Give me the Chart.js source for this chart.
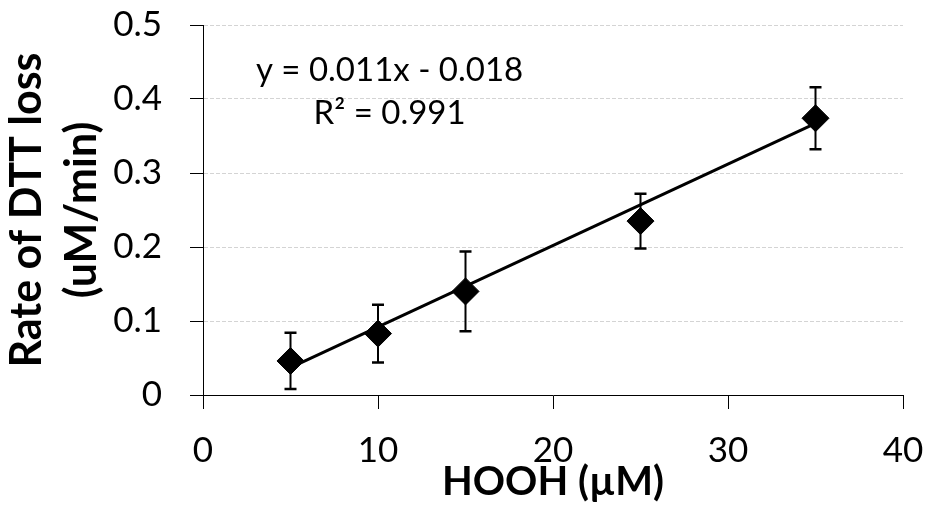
<!DOCTYPE html>
<html>
<head>
<meta charset="utf-8">
<script src="https://cdn.jsdelivr.net/npm/chart.js@4.4.0/dist/chart.umd.min.js"></script>
<style>
    html, body { margin: 0; padding: 0; background: #fff; }
    #wrap { width: 925px; height: 508px; }
</style>
</head>
<body>
<div id="wrap"><canvas id="dttChart"></canvas></div>
<script>
// HOOH concentration (uM)
var hoohConc = [5, 10, 15, 25, 35];
// Rate of DTT loss (uM/min)
var dttRate = [0.046, 0.083, 0.140, 0.235, 0.374];
// Error bar half-lengths
var dttErr = [0.038, 0.039, 0.054, 0.037, 0.042];
// Linear fit y = 0.011x - 0.018 over the measured range
var fitX = [5, 35];
var fitY = [0.037, 0.367];
// Tick values
var xTicks = [0, 10, 20, 30, 40];
var yTicks = [0, 0.1, 0.2, 0.3, 0.4, 0.5];
// Fit annotation
var fitText = ['y = 0.011x - 0.018', 'R\u00b2 = 0.991'];

document.addEventListener('DOMContentLoaded', function() {
    var ctx = document.getElementById('dttChart').getContext('2d');

    var pointData = hoohConc.map(function(x, i) { return { x: x, y: dttRate[i] }; });
    var fitData = fitX.map(function(x, i) { return { x: x, y: fitY[i] }; });

    // Draw vertical error bars with caps under the markers
    var errorBars = {
        id: 'errorBars',
        beforeDatasetsDraw: function(chart) {
            var c = chart.ctx;
            var xs = chart.scales.x, ys = chart.scales.y;
            c.save();
            c.strokeStyle = '#000';
            for (var i = 0; i < hoohConc.length; i++) {
                var px = xs.getPixelForValue(hoohConc[i]);
                var top = ys.getPixelForValue(dttRate[i] + dttErr[i]);
                var bot = ys.getPixelForValue(dttRate[i] - dttErr[i]);
                c.lineWidth = 2;
                c.beginPath();
                c.moveTo(px, top);
                c.lineTo(px, bot);
                c.stroke();
                c.lineWidth = 2.5;
                c.beginPath();
                c.moveTo(px - 6, top);
                c.lineTo(px + 6, top);
                c.moveTo(px - 6, bot);
                c.lineTo(px + 6, bot);
                c.stroke();
            }
            c.restore();
        }
    };

    // Equation and R squared text
    var fitLabel = {
        id: 'fitLabel',
        afterDraw: function(chart) {
            var c = chart.ctx;
            var xs = chart.scales.x, ys = chart.scales.y;
            c.save();
            c.fillStyle = '#000';
            c.font = '33px Lato';
            c.textAlign = 'center';
            c.textBaseline = 'middle';
            c.fillText(fitText[0], xs.getPixelForValue(10.66), ys.getPixelForValue(0.439));
            c.fillText(fitText[1], xs.getPixelForValue(10.66), ys.getPixelForValue(0.380));
            c.restore();
        }
    };

    var data = {
        datasets: [
            {
                label: 'Rate',
                data: pointData,
                showLine: false,
                pointStyle: 'rectRot',
                pointRadius: 13.5,
                pointBackgroundColor: '#000',
                pointBorderColor: '#000',
                pointBorderWidth: 1
            },
            {
                label: 'Linear fit',
                data: fitData,
                showLine: true,
                borderColor: '#000',
                borderWidth: 3,
                pointRadius: 0,
                fill: false
            }
        ]
    };

    var options = {
        responsive: true,
        maintainAspectRatio: false,
        animation: false,
        events: [],
        layout: {
            padding: { top: 25, right: 22, bottom: 0, left: 0 }
        },
        plugins: {
            legend: { display: false },
            tooltip: { enabled: false }
        },
        scales: {
            x: {
                type: 'linear',
                position: 'bottom',
                min: 0,
                max: 40,
                afterBuildTicks: function(axis) {
                    axis.ticks = xTicks.map(function(v) { return { value: v }; });
                },
                afterFit: function(axis) {
                    axis.height = 113;
                    // let layout.padding alone set the side margins
                    axis.paddingLeft = 0;
                    axis.paddingRight = 0;
                },
                grid: {
                    drawOnChartArea: false,
                    tickLength: 14,
                    tickColor: '#000',
                    tickWidth: 1
                },
                border: { color: '#000', width: 1 },
                ticks: {
                    color: '#000',
                    font: { family: 'Lato', size: 35 },
                    padding: 21,
                    maxRotation: 0
                },
                title: {
                    display: true,
                    text: 'HOOH (\u00b5M)',
                    color: '#000',
                    font: { family: 'Lato', size: 40, weight: 'bold' },
                    padding: { top: 0, bottom: 1.5 }
                }
            },
            y: {
                min: 0,
                max: 0.5,
                afterBuildTicks: function(axis) {
                    axis.ticks = yTicks.map(function(v) { return { value: v }; });
                },
                afterFit: function(axis) {
                    axis.width = 203;
                    axis.paddingTop = 0;
                    axis.paddingBottom = 0;
                },
                grid: {
                    color: function(c) { return c.tick && c.tick.value === 0 ? 'rgba(0,0,0,0)' : '#d4d4d4'; },
                    lineWidth: 1,
                    tickLength: 13,
                    tickColor: '#000',
                    tickWidth: 1,
                    tickBorderDash: []
                },
                border: { color: '#000', width: 1, dash: [4, 2] },
                ticks: {
                    color: '#000',
                    font: { family: 'Lato', size: 35 },
                    padding: 28,
                    callback: function(v) { return String(v); }
                },
                title: {
                    display: true,
                    text: ['Rate of DTT loss', '(uM/min)'],
                    color: '#000',
                    font: { family: 'Lato', size: 43, weight: 'bold', lineHeight: 1.28 },
                    padding: { top: 0, bottom: 0 }
                }
            }
        }
    };

    var dttChart = new Chart(ctx, {
        type: 'scatter',
        data: data,
        options: options,
        plugins: [errorBars, fitLabel]
    });
});
</script>
</body>
</html>
